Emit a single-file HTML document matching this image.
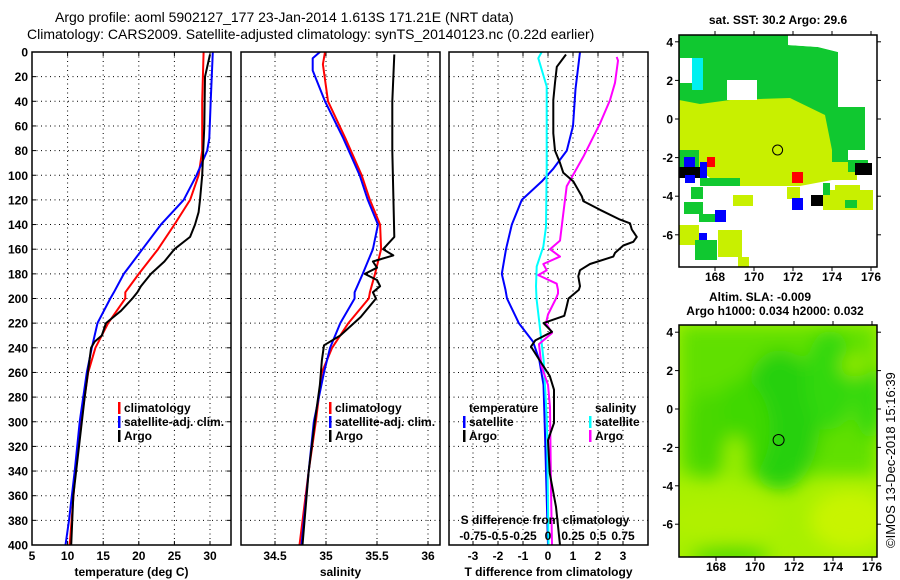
<!DOCTYPE html>
<html><head><meta charset="utf-8"><style>
html,body{margin:0;padding:0;background:#fff}
svg{display:block}
text{font-family:"Liberation Sans",Arial,sans-serif;font-weight:bold;fill:#000}
.t{font-size:12px}
.ti{font-size:14px;font-weight:normal}
.grid{stroke:#000;stroke-width:1;stroke-dasharray:1,3.5}
</style></head><body>
<svg id="fig" width="900" height="580" viewBox="0 0 900 580" xmlns="http://www.w3.org/2000/svg">
<text class="ti" x="55" y="22">Argo profile: aoml 5902127_177 23-Jan-2014 1.613S 171.21E (NRT data)</text>
<text class="ti" x="27" y="39">Climatology: CARS2009. Satellite-adjusted climatology: synTS_20140123.nc (0.22d earlier)</text>
<g id="p1"></g>
<g id="p2"></g>
<g id="p3"></g>

<!-- Map 1: SST -->
<g>
<text class="t" x="778" y="24" text-anchor="middle">sat. SST: 30.2 Argo: 29.6</text>
<rect x="679" y="35" width="198" height="232" fill="#fff"/>
<polygon fill="#10c830" points="679,35 788,35 788,45 818,47 838,52 838,107 865,107 865,150 848,150 848,165 679,165"/>
<polygon fill="#c8f000" points="679,100 700,104 730,100 790,98 825,115 832,150 832,180 800,186 720,186 700,170 679,150"/>
<polygon fill="#fff" points="788,35 877,35 877,107 865,107 838,107 838,52 818,47 788,45"/>
<rect x="680" y="58" width="12" height="25" fill="#fff"/>
<rect x="692" y="58" width="11" height="32" fill="#00f0f0"/>
<rect x="727" y="80" width="30" height="20" fill="#fff"/>
<rect x="679" y="150" width="20" height="18" fill="#10c830"/>
<rect x="684" y="157" width="11" height="10" fill="#0000ff"/>
<rect x="707" y="157" width="8" height="10" fill="#ff0000"/>
<rect x="700" y="162" width="7" height="16" fill="#0000ff"/>
<rect x="679" y="167" width="21" height="11" fill="#000"/>
<rect x="685" y="175" width="10" height="8" fill="#0000ff"/>
<rect x="792" y="172" width="11" height="11" fill="#ff0000"/>
<rect x="830" y="162" width="27" height="18" fill="#c8f000"/>
<rect x="848" y="160" width="20" height="12" fill="#10c830"/>
<rect x="855" y="163" width="17" height="12" fill="#000"/>
<rect x="700" y="178" width="40" height="8" fill="#10c830"/>
<rect x="691" y="187" width="12" height="12" fill="#10c830"/>
<rect x="684" y="202" width="19" height="12" fill="#10c830"/>
<rect x="699" y="214" width="16" height="8" fill="#10c830"/>
<rect x="715" y="210" width="11" height="12" fill="#0000ff"/>
<rect x="733" y="195" width="20" height="11" fill="#c8f000"/>
<rect x="787" y="187" width="13" height="12" fill="#c8f000"/>
<rect x="792" y="198" width="11" height="12" fill="#0000ff"/>
<rect x="823" y="190" width="50" height="20" fill="#c8f000"/>
<rect x="835" y="185" width="25" height="6" fill="#c8f000"/>
<rect x="845" y="200" width="12" height="8" fill="#10c830"/>
<rect x="823" y="183" width="7" height="12" fill="#10c830"/>
<rect x="811" y="195" width="12" height="11" fill="#000"/>
<rect x="718" y="230" width="24" height="27" fill="#c8f000"/>
<rect x="738" y="257" width="11" height="10" fill="#c8f000"/>
<rect x="699" y="233" width="8" height="12" fill="#0000ff"/>
<rect x="679" y="225" width="20" height="20" fill="#c8f000"/>
<rect x="695" y="240" width="22" height="20" fill="#10c830"/>
<circle cx="777.6" cy="150" r="5" fill="none" stroke="#000" stroke-width="1"/>
<rect x="679" y="35" width="198" height="232" fill="none" stroke="#000" stroke-width="1.5"/>
<g id="m1ax"></g>
</g>

<!-- Map 2: SLA -->
<g>
<text class="t" x="760" y="301" text-anchor="middle">Altim. SLA: -0.009</text>
<text class="t" x="775" y="315" text-anchor="middle">Argo h1000: 0.034 h2000: 0.032</text>
<defs>
<clipPath id="c2"><rect x="679" y="325" width="198" height="232"/></clipPath>
<filter id="bl" x="-50%" y="-50%" width="200%" height="200%"><feGaussianBlur stdDeviation="9"/></filter>
</defs>
<g clip-path="url(#c2)">
<rect x="679" y="325" width="198" height="232" fill="#a8f000"/>
<g filter="url(#bl)">
<rect x="679" y="325" width="198" height="150" fill="#60e000"/>
<ellipse cx="780" cy="420" rx="40" ry="70" fill="#28d010"/>
<ellipse cx="740" cy="430" rx="30" ry="50" fill="#40d800"/>
<ellipse cx="830" cy="380" rx="25" ry="50" fill="#30d808"/>
<ellipse cx="870" cy="400" rx="15" ry="40" fill="#30d808"/>
<ellipse cx="705" cy="435" rx="18" ry="45" fill="#48d800"/>
<ellipse cx="720" cy="520" rx="60" ry="20" fill="#b0f000"/>
<ellipse cx="850" cy="520" rx="40" ry="30" fill="#c8f400"/>
<ellipse cx="855" cy="365" rx="15" ry="12" fill="#90e800"/>
<ellipse cx="735" cy="460" rx="10" ry="25" fill="#a0f000"/>
<ellipse cx="730" cy="555" rx="40" ry="8" fill="#40d800"/>
</g>
</g>
<circle cx="778.6" cy="440" r="5.5" fill="none" stroke="#000" stroke-width="1"/>
<rect x="679" y="325" width="198" height="232" fill="none" stroke="#000" stroke-width="1.5"/>
<g id="m2ax"></g>
<text x="895" y="548" font-size="13" style="font-weight:normal" transform="rotate(-90 895 548)">©IMOS 13-Dec-2018 15:16:39</text>
</g>
</svg>
<script>
// ---- data ----
const tClimDepth=[0,40,80,100,120,140,160,180,195,200,220,240,260,300,340,400];
const tClimVal=[29.1,28.9,28.9,28.4,27.2,25.0,22.7,20.0,18.1,18.1,15.7,13.9,12.9,11.9,11.1,10.3];
const tSatDepth=[0,40,70,80,100,120,140,160,180,195,200,220,240,260,300,340,380,400];
const tSatVal=[30.4,30.1,29.9,29.6,28.1,26.3,23.1,20.5,17.9,16.5,16.0,14.2,13.4,12.7,11.7,11.0,10.2,9.7];
const tArgoDepth=[2,20,60,100,120,130,140,150,160,170,180,190,195,200,210,220,230,235,240,280,320,360,400];
const tArgoVal=[30.0,29.3,29.2,28.9,28.6,28.4,27.9,27.2,25.0,23.6,21.7,20.3,19.8,19.1,17.5,15.4,14.8,13.8,13.3,12.4,11.6,10.8,10.5];
const sClimDepth=[0,10,40,70,100,120,140,160,180,195,200,220,240,260,300,340,400];
const sClimVal=[34.99,34.97,35.02,35.19,35.35,35.43,35.53,35.54,35.48,35.43,35.42,35.22,35.06,34.96,34.90,34.83,34.74];
const sSatDepth=[0,5,15,40,70,100,120,140,160,180,195,200,220,240,260,300,340,400];
const sSatVal=[34.94,34.87,34.87,34.99,35.17,35.33,35.41,35.51,35.46,35.36,35.28,35.28,35.14,35.04,34.98,34.88,34.83,34.76];
const sArgoDepth=[2,40,80,150,160,165,170,175,180,185,190,195,200,215,230,238,250,270,300,340,400];
const sArgoVal=[35.67,35.65,35.65,35.67,35.56,35.66,35.46,35.50,35.38,35.50,35.53,35.46,35.49,35.34,35.14,34.98,34.96,34.94,34.89,34.83,34.77];
const dTSatDepth=[0,30,60,80,95,105,120,140,160,180,193,200,220,235,250,270,310,400];
const dTSatVal=[1.28,1.1,1.0,0.75,0.2,-0.25,-1.05,-1.45,-1.68,-1.85,-1.7,-1.64,-1.17,-0.6,-0.35,-0.18,-0.12,0];
const dTArgoDepth=[2,12,25,39,66,80,90,98,105,117,121,128,136,139,144,150,154,157,163,166,172,177,182,190,193,200,207,214,220,227,234,239,250,263,274,301,315,342,369,400];
const dTArgoVal=[0.72,0.35,0.28,0.21,0.21,0.28,0.48,0.61,1.01,1.35,1.41,2.08,2.88,3.28,3.35,3.55,3.41,3.01,2.68,2.61,1.68,1.28,1.21,1.28,1.23,0.82,0.74,0.65,-0.18,0.16,-0.51,-0.68,-0.34,0.07,0.24,0.24,0,0.07,0.32,0.48];
const dSSatDepth=[0,5,28,93,142,158,174,190,200,220,250,301,400];
const dSSatVal=[-0.063,-0.097,-0.013,-0.013,-0.02,-0.047,-0.113,-0.12,-0.115,-0.086,-0.044,-0.01,0.005];
const dSArgoDepth=[4,7,25,39,58,85,109,131,153,160,166,172,177,181,188,193,196,200,213,220,228,237,255,270,288,355,400];
const dSArgoVal=[0.687,0.7,0.67,0.62,0.52,0.353,0.187,0.153,0.12,0.02,0.12,-0.047,-0.013,-0.097,0.087,0.1,0.1,0.08,0,-0.02,0.04,-0.09,-0.065,0,0.02,0.03,0.04];
const depthTicks=[0,20,40,60,80,100,120,140,160,180,200,220,240,260,280,300,320,340,360,380,400];
const tTicks=[5,10,15,20,25,30];
const sTicks=[34.5,35,35.5,36];
const dTTicks=[-3,-2,-1,0,1,2,3];
const dSTicks=[-0.75,-0.5,-0.25,0,0.25,0.5,0.75];
const dSTickLabels=['-0.75','-0.5','-0.25','0','0.25','0.5','0.75'];
const lonTicks=[168,170,172,174,176];
const latTicks=[4,2,0,-2,-4,-6];

const NS='http://www.w3.org/2000/svg';
const Y0=52,Y1=545;
const yD=d=>Y0+(Y1-Y0)*d/400;
const xT=v=>32+(v-5)*7.12;
const xS=v=>275+(v-34.5)*102;
const xDT=v=>548+v*25;
const xDS=v=>548+v*100;
function mk(tag,attrs,parent){const e=document.createElementNS(NS,tag);for(const k in attrs)e.setAttribute(k,attrs[k]);parent.appendChild(e);return e;}
function txt(s,x,y,anchor,parent,cls){const e=mk('text',{x:x,y:y,'text-anchor':anchor,class:cls||'t'},parent);e.textContent=s;return e;}

function panel(g,x0,x1,xf,xt,xlabels,title,name){
  mk('rect',{x:x0,y:Y0,width:x1-x0,height:Y1-Y0,fill:'#fff'},g);
  depthTicks.forEach(d=>{if(d>0&&d<400){const l=mk('line',{x1:x0,x2:x1,y1:yD(d),y2:yD(d),class:'grid'},g);
    
    }});
  xt.forEach((v,i)=>{const x=xf(v);if(x>x0+2&&x<x1-2){const l=mk('line',{x1:x,x2:x,y1:Y0,y2:Y1,class:'grid'},g);
    
    }
    mk('line',{x1:x,x2:x,y1:Y1,y2:Y1-4,stroke:'#000'},g);mk('line',{x1:x,x2:x,y1:Y0,y2:Y0+4,stroke:'#000'},g);
    if(xlabels){const t=txt(xlabels[i],x,560,'middle',g);
    
    }});
  const tt=txt(title,(x0+x1)/2,576,'middle',g);
  
  
}
function series(g,depths,vals,xf,color,name,w){
  const pts=depths.map((d,i)=>xf(vals[i]).toFixed(1)+','+yD(d).toFixed(1)).join(' ');
  const p=mk('polyline',{points:pts,fill:'none',stroke:color,'stroke-width':w||2,'stroke-linejoin':'round'},g);
  
  
}
function frame(g,x0,x1){mk('rect',{x:x0,y:Y0,width:x1-x0,height:Y1-Y0,fill:'none',stroke:'#000','stroke-width':1.5},g);}
function legendRow(g,x,y,color,label,name){
  if(color){mk('rect',{x:x,y:y-10,width:2.5,height:12,fill:color},g);}
  const t=txt(label,x+6,y,'start',g);
  
  
}

const p1=document.getElementById('p1'),p2=document.getElementById('p2'),p3=document.getElementById('p3');
depthTicks.forEach(d=>{const t=txt(String(d),28,yD(d)+4.5,'end',p1);
  
  });

panel(p1,32,231,xT,tTicks,tTicks.map(String),'temperature (deg C)','temperature');
series(p1,tClimDepth,tClimVal,xT,'#ff0000','temp-climatology-line');
series(p1,tSatDepth,tSatVal,xT,'#0000ff','temp-satellite-line');
series(p1,tArgoDepth,tArgoVal,xT,'#000000','temp-argo-line');
legendRow(p1,118,412,'#ff0000','climatology','temp-legend-climatology');
legendRow(p1,118,426,'#0000ff','satellite-adj. clim.','temp-legend-satellite');
legendRow(p1,118,440,'#000','Argo','temp-legend-argo');
depthTicks.forEach(d=>{mk('line',{x1:32,x2:36,y1:yD(d),y2:yD(d),stroke:'#000'},p1);mk('line',{x1:227,x2:231,y1:yD(d),y2:yD(d),stroke:'#000'},p1);});
frame(p1,32,231);

panel(p2,241,440,xS,sTicks,sTicks.map(String),'salinity','salinity');
series(p2,sClimDepth,sClimVal,xS,'#ff0000','sal-climatology-line');
series(p2,sSatDepth,sSatVal,xS,'#0000ff','sal-satellite-line');
series(p2,sArgoDepth,sArgoVal,xS,'#000000','sal-argo-line');
legendRow(p2,329,412,'#ff0000','climatology','sal-legend-climatology');
legendRow(p2,329,426,'#0000ff','satellite-adj. clim.','sal-legend-satellite');
legendRow(p2,329,440,'#000','Argo','sal-legend-argo');
frame(p2,241,440);

panel(p3,449,648,xDT,dTTicks,dTTicks.map(String),'T difference from climatology','tdiff');
series(p3,dTSatDepth,dTSatVal,xDT,'#0000ff','tdiff-satellite-line');
series(p3,dSSatDepth,dSSatVal,xDS,'#00ffff','sdiff-satellite-line');
series(p3,dSArgoDepth,dSArgoVal,xDS,'#ff00ff','sdiff-argo-line');
series(p3,dTArgoDepth,dTArgoVal,xDT,'#000000','tdiff-argo-line');
legendRow(p3,463,412,null,'temperature','tdiff-legend-header');
legendRow(p3,463,426,'#0000ff','satellite','tdiff-legend-satellite');
legendRow(p3,463,440,'#000','Argo','tdiff-legend-argo');
legendRow(p3,589,412,null,'salinity','sdiff-legend-header');
legendRow(p3,589,426,'#00ffff','satellite','sdiff-legend-satellite');
legendRow(p3,589,440,'#ff00ff','Argo','sdiff-legend-argo');
const st=txt('S difference from climatology',545,524,'middle',p3);


dSTicks.forEach((v,i)=>{const t=txt(dSTickLabels[i],xDS(v),540,'middle',p3);
  
  });
frame(p3,449,648);

function mapAxes(id,x0,y0,w,h,lon168,lonPx,lat0,latPx){
  const g=document.getElementById(id);
  lonTicks.forEach(v=>{const x=lon168+(v-168)*lonPx;
    mk('line',{x1:x,x2:x,y1:y0+h,y2:y0+h+4,stroke:'#000'},g);mk('line',{x1:x,x2:x,y1:y0,y2:y0-4,stroke:'#000'},g);
    const t=txt(String(v),x,y0+h+14,'middle',g);
    
    });
  latTicks.forEach(v=>{const y=lat0-v*latPx;
    mk('line',{x1:x0-4,x2:x0,y1:y,y2:y,stroke:'#000'},g);mk('line',{x1:x0+w,x2:x0+w+4,y1:y,y2:y,stroke:'#000'},g);
    const t=txt(String(v),x0-6,y+4.5,'end',g);
    
    });
}
mapAxes('m1ax',679,35,198,232,715,19.5,119,19.3);
mapAxes('m2ax',679,325,198,232,716,19.5,409,19.2);
</script>
</body></html>
